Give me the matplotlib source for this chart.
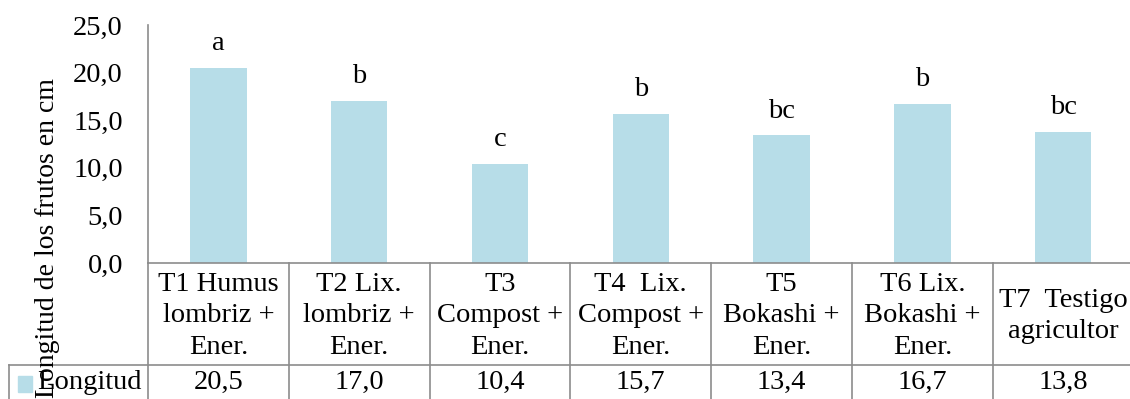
import matplotlib.pyplot as plt
from matplotlib.patches import Rectangle

# datos
tratamientos = ["T1 Humus\nlombriz +\nEner.", "T2 Lix.\nlombriz +\nEner.",
                "T3\nCompost +\nEner.", "T4  Lix.\nCompost +\nEner.",
                "T5\nBokashi +\nEner.", "T6 Lix.\nBokashi +\nEner.",
                "T7  Testigo\nagricultor"]
longitud = [20.5, 17.0, 10.4, 15.7, 13.4, 16.7, 13.8]
letras = ["a", "b", "c", "b", "bc", "b", "bc"]
yticks = [0, 5, 10, 15, 20, 25]

plt.rcParams['font.family'] = ['Liberation Serif', 'DejaVu Serif']
azul = '#B7DDE8'
gris = '#8C8C8C'
fs = 20.5

fig = plt.figure(figsize=(11.3, 3.99), dpi=100)
ax = fig.add_axes([148/1130, 1 - 263/399, 985.6/1130, 238/399])

x = list(range(len(longitud)))
ax.bar(x, longitud, width=0.4, color=azul)
for xi, v, l in zip(x, longitud, letras):
    ax.text(xi, v + 2.55, l, ha='center', va='center', fontsize=fs)

ax.set_xlim(-0.5, 6.5)
ax.set_ylim(0, 25)
ax.set_yticks(yticks)
ax.set_yticklabels([f"{t:.1f}".replace('.', ',') for t in yticks], fontsize=fs)
ax.tick_params(axis='y', length=0, pad=18)
ax.set_xticks([])
for s in ['top', 'right']:
    ax.spines[s].set_visible(False)
for s in ['left', 'bottom']:
    ax.spines[s].set_color(gris)
    ax.spines[s].set_linewidth(1.2)

# tabla de datos
tr = ax.get_xaxis_transform()
h1 = -102/238   # fin fila de encabezados
h2 = -140/238   # fin fila de valores
xl = -0.5 - 139/140.8
kw = dict(transform=tr, clip_on=False, color=gris, lw=1.2)
for k in range(len(longitud) + 1):
    ax.plot([k - 0.5, k - 0.5], [0, h2], **kw)
ax.plot([xl, 6.5], [h1, h1], **kw)
ax.plot([xl, xl], [h1, h2], **kw)

for xi, t, v in zip(x, tratamientos, longitud):
    ax.text(xi, h1 / 2 - 2/238, t, ha='center', va='center', fontsize=fs,
            transform=tr, linespacing=1.35)
    ax.text(xi, (h1 + h2) / 2 + 0.005, f"{v:.1f}".replace('.', ','),
            ha='center', va='center', fontsize=fs, transform=tr)

ax.add_patch(Rectangle((-1.423, (h1 + h2) / 2 - 0.035), 0.1, 0.07,
                       color=azul, transform=tr, clip_on=False))
ax.text(-1.29, (h1 + h2) / 2 + 0.005, "Longitud", ha='left', va='center',
        fontsize=fs, transform=tr)

ax.text(-101/985.6, 25/238, "Longitud de los frutos en cm", rotation=90,
        ha='center', va='center', fontsize=20, transform=ax.transAxes)

fig.savefig('out.png', dpi=100)
